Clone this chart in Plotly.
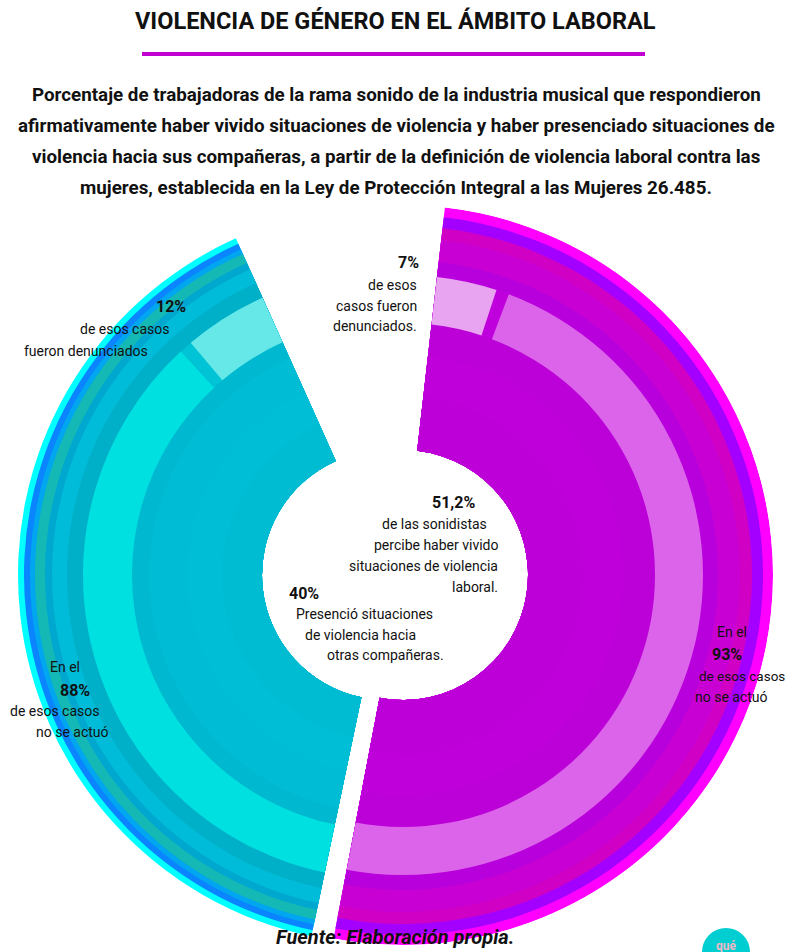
import plotly.graph_objects as go

# ---------------- DATA ----------------
categorias = ["Presenció violencia hacia otras compañeras", "Percibe haber vivido violencia laboral"]
porcentaje = [40, 51.2]          # % of sonidistas
denunciados = [12, 7]            # % of those cases that were reported
no_actuo = [88, 93]              # % of those cases with no action

# ---------------- STYLE ----------------
W, H = 791, 952
FONT = "Roboto, Liberation Sans, sans-serif"
HOLE = 125
RMAX = 370
GAP = 2.5
START_PURPLE = 6.5

bands_cyan = [(369, "#00FFFF"), (363, "#0A84FF"), (357, "#00A6F0"), (352, "#14B8B4"),
              (342, "#00A8D0"), (335, "#00BCD8"), (320, "#00B0C8"), (304, "#00C4D6"),
              (255, "#00B8CF"), (238, "#00BCD4"), (200, "#00BED6"), (165, "#00BCD3")]
bands_purple = [(370, "#FF00FF"), (360, "#A400FF"), (349, "#D000C4"), (337, "#C800D4"),
                (315, "#B800DC"), (300, "#C000DC"), (252, "#BC00D8"), (220, "#C000DA"),
                (180, "#BE00D8")]
light_cyan = (255, 304, "#00E0E0", "#66E8E8")      # inner, outer, no-actuó, denunciados
light_purple = (252, 300, "#DC64EA", "#E8A4F0")

centers = {"polar": (387, 575), "polar2": (403, 575)}

fig = go.Figure()

deg = 360 / 100
span_c = porcentaje[0] * deg
span_p = porcentaje[1] * deg
start_p = START_PURPLE
start_c = start_p + span_p + 1.0


def bar(sub, t0, t1, r0, r1, color):
    fig.add_trace(go.Barpolar(
        subplot=sub, theta=[(t0 + t1) / 2], width=[t1 - t0], base=[r0], r=[r1 - r0],
        marker=dict(color=color, line=dict(width=0)), hoverinfo="skip", showlegend=False))


# cyan wedge (witnessed violence)
for rr, col in bands_cyan:
    bar("polar", start_c, start_c + span_c, HOLE, rr, col)
split_c = start_c + span_c * no_actuo[0] / 100
bar("polar", start_c, split_c - GAP / 2, light_cyan[0], light_cyan[1], light_cyan[2])
bar("polar", split_c + GAP / 2, start_c + span_c, light_cyan[0], light_cyan[1], light_cyan[3])

# purple wedge (lived violence)
for rr, col in bands_purple:
    bar("polar2", start_p, start_p + span_p, HOLE, rr, col)
split_p = start_p + span_p * denunciados[1] / 100
bar("polar2", start_p, split_p - GAP / 2, light_purple[0], light_purple[1], light_purple[3])
bar("polar2", split_p + GAP / 2, start_p + span_p, light_purple[0], light_purple[1], light_purple[2])


def dom(c):
    cx, cy = c
    return dict(x=[(cx - RMAX) / W, (cx + RMAX) / W],
                y=[(H - cy - RMAX) / H, (H - cy + RMAX) / H])


polar_common = dict(bgcolor="rgba(0,0,0,0)", barmode="overlay",
                    radialaxis=dict(visible=False, range=[0, RMAX]),
                    angularaxis=dict(visible=False, rotation=90, direction="clockwise"))

annotations = []


def ann(text, x, y, size, xanchor="center", bold=False, italic=False, color="#111111"):
    if bold:
        text = f"<b>{text}</b>"
    if italic:
        text = f"<i>{text}</i>"
    annotations.append(dict(text=text, x=x / W, y=1 - y / H, xref="paper", yref="paper",
                            xanchor=xanchor, yanchor="middle", showarrow=False,
                            font=dict(family=FONT, size=size, color=color)))


def pct(v):
    return (f"{v:g}".replace(".", ",")) + "%"


# Title & subtitle
ann("VIOLENCIA DE GÉNERO EN EL ÁMBITO LABORAL", 395, 21, 23.5, bold=True)
sub = ["Porcentaje de trabajadoras de la rama sonido de la industria musical que respondieron",
       "afirmativamente haber vivido situaciones de violencia y haber presenciado situaciones de",
       "violencia hacia sus compañeras, a partir de la definición de violencia laboral contra las",
       "mujeres, establecida en la Ley de Protección Integral a las Mujeres 26.485."]
for i, line in enumerate(sub):
    ann(line, 396, 95 + i * 31, 18.8, bold=True)

# Purple 7%
ann(pct(denunciados[1]), 421, 262, 16, xanchor="right", bold=True)
for i, line in enumerate(["de esos", "casos fueron", "denunciados."]):
    ann(line, 419, 285 + i * 20.5, 14, xanchor="right")

# Cyan 12%
ann(pct(denunciados[0]), 188, 307, 16, xanchor="right", bold=True)
ann("de esos casos", 172, 329, 14, xanchor="right")
ann("fueron denunciados", 150, 351, 14, xanchor="right")

# Centre 51,2%
ann(pct(porcentaje[1]), 477, 502, 16, xanchor="right", bold=True)
for i, line in enumerate(["de las sonidistas", "percibe haber vivido", "situaciones de violencia", "laboral."]):
    ann(line, 500 if i else 489, 524 + i * 21, 14, xanchor="right")

# Centre 40%
ann(pct(porcentaje[0]), 287, 593, 16, xanchor="left", bold=True)
ann("Presenció situaciones", 294, 614, 14, xanchor="left")
ann("de violencia hacia", 303, 635, 14, xanchor="left")
ann("otras compañeras.", 325, 655, 14, xanchor="left")

# Cyan 88%
ann("En el", 65, 667, 14)
ann(pct(no_actuo[0]), 75, 690, 16, bold=True)
ann("de esos casos", 55, 711, 14)
ann("no se actuó", 72, 732, 14)

# Purple 93%
ann("En el", 732, 632, 14)
ann(pct(no_actuo[1]), 727, 654, 16, bold=True)
ann("de esos casos", 787, 676, 13.5, xanchor="right")
ann("no se actuó", 731, 697, 14)

# Source
ann("Fuente: Elaboración propia.", 395, 937, 20, bold=True, italic=True)
ann("qué", 726, 946, 12, bold=True, color="#F2B8C6")

shapes = [
    dict(type="line", xref="paper", yref="paper", x0=142 / W, x1=645 / W,
         y0=1 - 54 / H, y1=1 - 54 / H, line=dict(color="#C000D0", width=4)),
    dict(type="circle", xref="paper", yref="paper", x0=702 / W, x1=750 / W,
         y0=1 - 976 / H, y1=1 - 928 / H, fillcolor="#00CED1", line=dict(width=0), layer="below"),
]

fig.update_layout(
    width=W, height=H, margin=dict(l=0, r=0, t=0, b=0),
    paper_bgcolor="white", plot_bgcolor="white",
    polar=dict(domain=dom(centers["polar"]), **polar_common),
    polar2=dict(domain=dom(centers["polar2"]), **polar_common),
    annotations=annotations, shapes=shapes, showlegend=False,
)

fig.write_html("out.html")
